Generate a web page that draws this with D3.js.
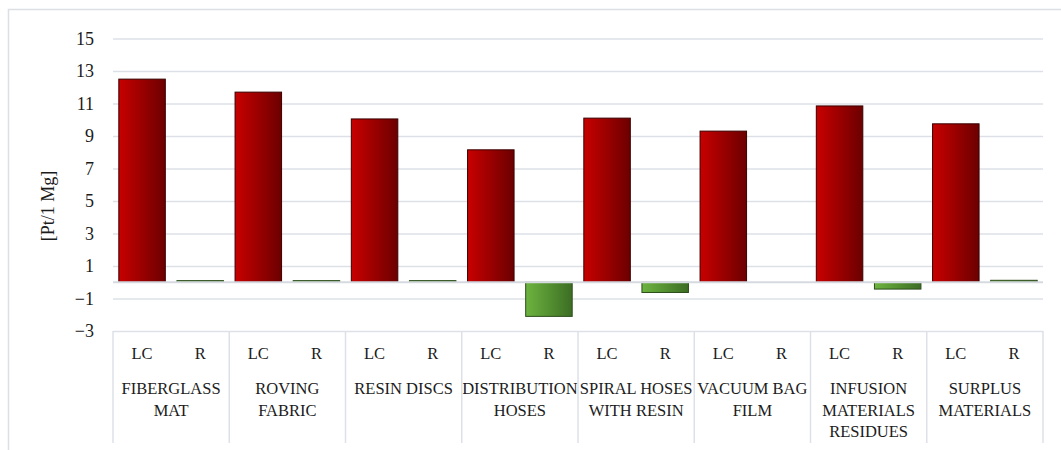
<!DOCTYPE html>
<html>
<head>
<meta charset="utf-8">
<script src="https://cdn.jsdelivr.net/npm/d3@7"></script>
<style>
  html, body { margin: 0; padding: 0; background: #fff; }
  svg { display: block; }
  svg text { font-family: "Palatino Linotype", "Book Antiqua", Palatino, "Liberation Serif", serif; }
</style>
</head>
<body>
<svg id="chart" width="1061" height="450"></svg>
<script>
// Waste categories (label lines), series keys and values [Pt/1 Mg]
const categories = [
  ["FIBERGLASS", "MAT"],
  ["ROVING", "FABRIC"],
  ["RESIN DISCS"],
  ["DISTRIBUTION", "HOSES"],
  ["SPIRAL HOSES", "WITH RESIN"],
  ["VACUUM BAG", "FILM"],
  ["INFUSION", "MATERIALS", "RESIDUES"],
  ["SURPLUS", "MATERIALS"]
];
const seriesKeys = ["LC", "R"];
const lcValues = [12.5, 11.7, 10.05, 8.15, 10.1, 9.3, 10.85, 9.75];
const rValues = [0.1, 0.1, 0.1, -2.1, -0.63, 0, -0.42, 0.12];
const yTicks = [-3, -1, 1, 3, 5, 7, 9, 11, 13, 15];

const svg = d3.select("#chart");
const W = 1061, H = 450;
const plot = { left: 113, right: 1043, top: 38.5, bottom: 331 };
const gridColor = "#dde1e7";
const textColor = "#1c1c1c";
const serif = '"Palatino Linotype", "Book Antiqua", Palatino, "Liberation Serif", serif';

// outer chart frame
svg.append("rect")
  .attr("x", 8.5).attr("y", 9.5)
  .attr("width", W).attr("height", H)
  .attr("fill", "none").attr("stroke", "#dcdfe3").attr("stroke-width", 1.5);

const idx = categories.map((d, i) => i);
const x0 = d3.scaleBand().domain(idx).range([plot.left, plot.right]).padding(0);
const x1 = d3.scaleBand().domain(seriesKeys).range([0, x0.bandwidth()])
  .paddingInner(0.2).paddingOuter(0.1);
const y = d3.scaleLinear().domain([-3, 15]).range([plot.bottom, plot.top]);

// gradients
const defs = svg.append("defs");
function grad(id, c0, c1) {
  const g = defs.append("linearGradient").attr("id", id)
    .attr("x1", "0%").attr("x2", "100%").attr("y1", "0%").attr("y2", "0%");
  g.append("stop").attr("offset", "0%").attr("stop-color", c0);
  g.append("stop").attr("offset", "100%").attr("stop-color", c1);
}
grad("gradLC", "#c80000", "#6c0000");
grad("gradR", "#6db43f", "#3c6d24");

// gridlines + y tick labels
const yAxis = d3.axisLeft(y).tickValues(yTicks)
  .tickSize(-(plot.right - plot.left)).tickPadding(19).tickFormat(d3.format("d"));
const gy = svg.append("g").attr("transform", `translate(${plot.left},0)`).call(yAxis)
  .attr("font-family", serif).attr("font-size", 18);
gy.select(".domain").remove();
gy.selectAll(".tick line").attr("stroke", gridColor).attr("stroke-width", 1.5);
gy.selectAll(".tick text").attr("fill", textColor);

// y axis title
svg.append("text")
  .attr("transform", `translate(54,206) rotate(-90)`)
  .attr("text-anchor", "middle")
  .attr("fill", textColor)
  .style("font-size", "18px")
  .text("[Pt/1 Mg]");

// bars
const rows = idx.map(i => ({ i, vals: [lcValues[i], rValues[i]] }));
const groups = svg.append("g").selectAll("g").data(rows).join("g")
  .attr("transform", d => `translate(${x0(d.i)},0)`);
groups.selectAll("rect")
  .data(d => seriesKeys.map((k, j) => ({ key: k, v: d.vals[j] })).filter(d => d.v !== 0))
  .join("rect")
  .attr("x", d => x1(d.key))
  .attr("width", x1.bandwidth())
  .attr("y", d => y(Math.max(0, d.v)))
  .attr("height", d => Math.abs(y(d.v) - y(0)))
  .attr("fill", d => d.key === "LC" ? "url(#gradLC)" : "url(#gradR)")
  .attr("stroke", d => d.key === "LC" ? "#3a0000" : "#2c4d1b")
  .attr("stroke-width", 1);

// zero axis line
svg.append("line")
  .attr("x1", plot.left).attr("x2", plot.right)
  .attr("y1", y(0)).attr("y2", y(0))
  .attr("stroke", "#d6dae0").attr("stroke-width", 2);

// category axis box
const catBottom = 443;
const edges = idx.map(i => x0(i)).concat([plot.right]);
svg.append("g").selectAll("line").data(edges).join("line")
  .attr("x1", d => d).attr("x2", d => d)
  .attr("y1", plot.bottom).attr("y2", catBottom)
  .attr("stroke", gridColor).attr("stroke-width", 1.5);

// series labels under each bar
groups.selectAll("text.series").data(seriesKeys).join("text")
  .attr("class", "series")
  .attr("x", k => x1(k) + x1.bandwidth() / 2)
  .attr("y", 359)
  .attr("text-anchor", "middle")
  .attr("fill", textColor)
  .style("font-size", "16.5px")
  .text(k => k);

// category labels
groups.append("text")
  .attr("text-anchor", "middle")
  .attr("fill", textColor)
  .style("font-size", "16.5px")
  .selectAll("tspan").data(d => categories[d.i]).join("tspan")
  .attr("x", x0.bandwidth() / 2)
  .attr("y", (t, j) => 394 + j * 21.5)
  .text(t => t);
</script>
</body>
</html>
